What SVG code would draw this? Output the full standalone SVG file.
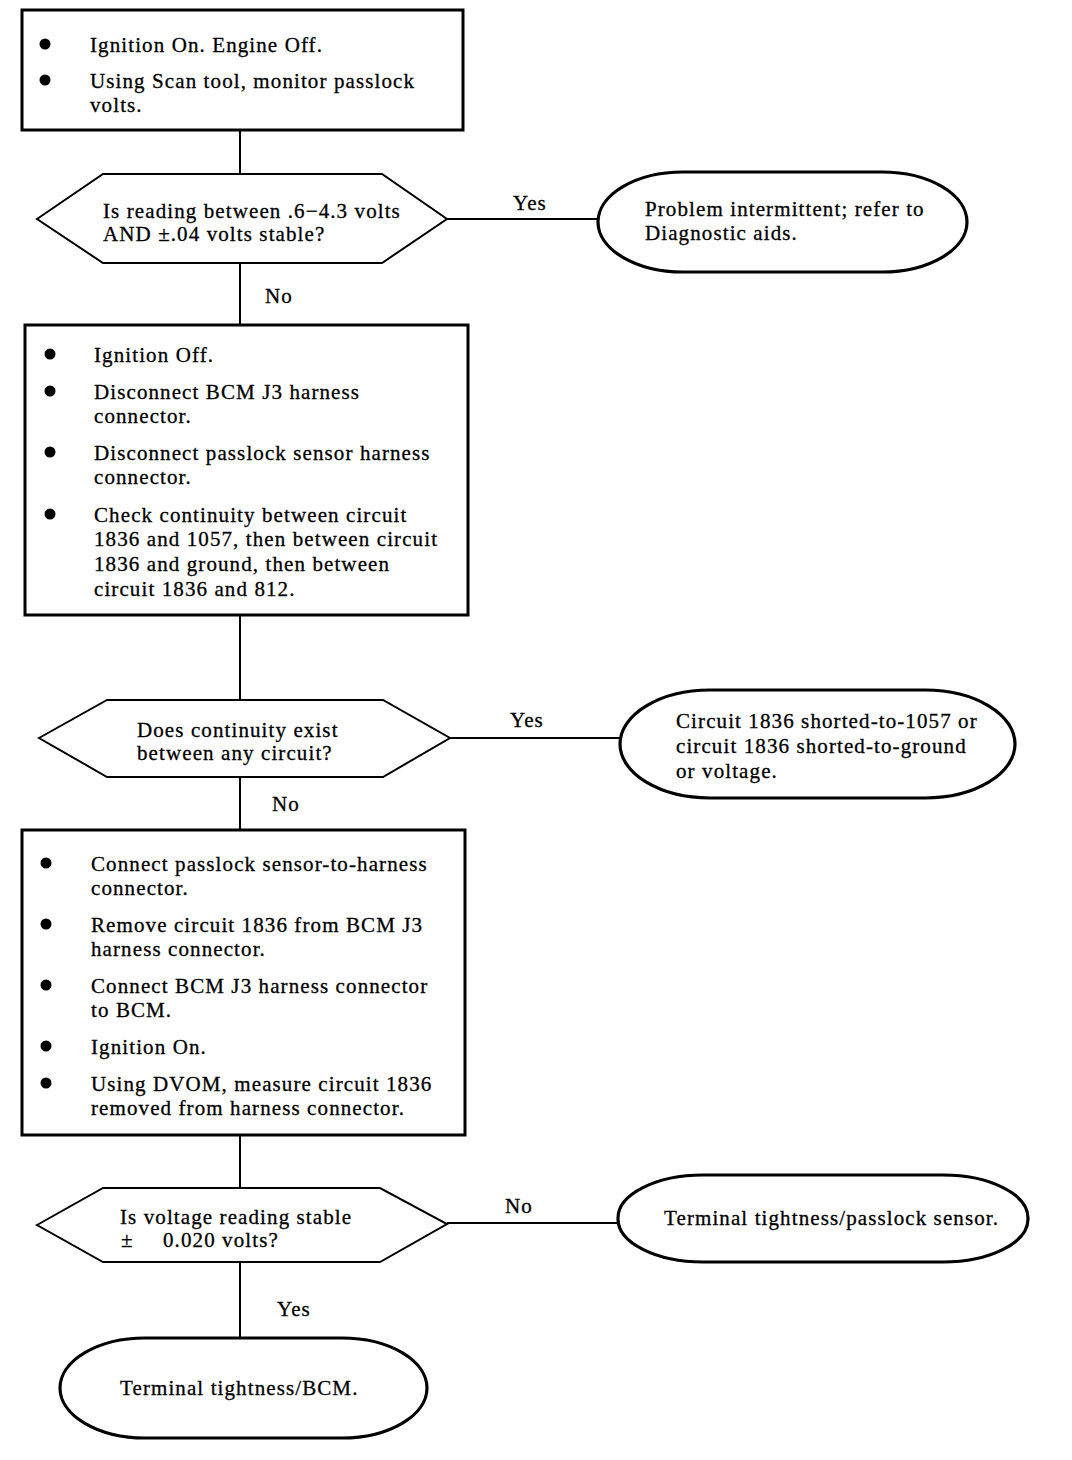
<svg xmlns="http://www.w3.org/2000/svg" width="1072" height="1460" viewBox="0 0 1072 1460">
<style>
text{font-family:"Liberation Serif","Times New Roman",serif;font-size:21px;letter-spacing:1.1px;fill:#000;stroke:#000;stroke-width:0.3}
.box{fill:#fff;stroke:#000;stroke-width:3}
.term{fill:#fff;stroke:#000;stroke-width:3.2}
.dec{fill:#fff;stroke:#000;stroke-width:2}
.ln{stroke:#000;stroke-width:2;fill:none}
.b{fill:#000}
</style>
<rect width="1072" height="1460" fill="#fff"/>
<g id="connectors">
<line class="ln" x1="240" y1="130" x2="240" y2="174"/>
<line class="ln" x1="447" y1="219" x2="598" y2="219"/>
<line class="ln" x1="240" y1="263" x2="240" y2="325"/>
<line class="ln" x1="240" y1="615" x2="240" y2="700"/>
<line class="ln" x1="450" y1="738" x2="620" y2="738"/>
<line class="ln" x1="240" y1="777" x2="240" y2="830"/>
<line class="ln" x1="240" y1="1135" x2="240" y2="1188"/>
<line class="ln" x1="447" y1="1223" x2="618" y2="1223"/>
<line class="ln" x1="240" y1="1262" x2="240" y2="1338"/>
<text x="513" y="210">Yes</text>
<text x="265" y="303">No</text>
<text x="510" y="727">Yes</text>
<text x="272" y="811">No</text>
<text x="505" y="1213">No</text>
<text x="277" y="1316">Yes</text>
</g>
<g id="step1">
<rect class="box" x="22" y="10" width="441" height="120"/>
<circle class="b" cx="45" cy="44" r="5.5"/>
<circle class="b" cx="45" cy="80" r="5.5"/>
<text x="90" y="52">Ignition On. Engine Off.</text>
<text x="90" y="88">Using Scan tool, monitor passlock</text>
<text x="90" y="112">volts.</text>
</g>
<g id="decision1">
<polygon class="dec" points="37,219 103,174 382,174 447,219 382,263 103,263"/>
<text x="103" y="218">Is reading between .6−4.3 volts</text>
<text x="103" y="241">AND ±.04 volts stable?</text>
</g>
<g id="result1">
<rect class="term" x="598" y="172" width="369" height="100" rx="85" ry="50"/>
<text x="645" y="216">Problem intermittent; refer to</text>
<text x="645" y="240">Diagnostic aids.</text>
</g>
<g id="step2">
<rect class="box" x="25" y="325" width="443" height="290"/>
<circle class="b" cx="50" cy="354" r="5.5"/>
<circle class="b" cx="50" cy="391" r="5.5"/>
<circle class="b" cx="50" cy="452" r="5.5"/>
<circle class="b" cx="50" cy="514" r="5.5"/>
<text x="94" y="362">Ignition Off.</text>
<text x="94" y="399">Disconnect BCM J3 harness</text>
<text x="94" y="423">connector.</text>
<text x="94" y="460">Disconnect passlock sensor harness</text>
<text x="94" y="484">connector.</text>
<text x="94" y="522">Check continuity between circuit</text>
<text x="94" y="546">1836 and 1057, then between circuit</text>
<text x="94" y="571">1836 and ground, then between</text>
<text x="94" y="596">circuit 1836 and 812.</text>
</g>
<g id="decision2">
<polygon class="dec" points="39,738 107,700 383,700 450,738 383,777 107,777"/>
<text x="137" y="737">Does continuity exist</text>
<text x="137" y="760">between any circuit?</text>
</g>
<g id="result2">
<rect class="term" x="620" y="690" width="395" height="108" rx="90" ry="54"/>
<text x="676" y="728">Circuit 1836 shorted-to-1057 or</text>
<text x="676" y="753">circuit 1836 shorted-to-ground</text>
<text x="676" y="778">or voltage.</text>
</g>
<g id="step3">
<rect class="box" x="22" y="830" width="443" height="305"/>
<circle class="b" cx="46" cy="863" r="5.5"/>
<circle class="b" cx="46" cy="924" r="5.5"/>
<circle class="b" cx="46" cy="985" r="5.5"/>
<circle class="b" cx="46" cy="1046" r="5.5"/>
<circle class="b" cx="46" cy="1083" r="5.5"/>
<text x="91" y="871">Connect passlock sensor-to-harness</text>
<text x="91" y="895">connector.</text>
<text x="91" y="932">Remove circuit 1836 from BCM J3</text>
<text x="91" y="956">harness connector.</text>
<text x="91" y="993">Connect BCM J3 harness connector</text>
<text x="91" y="1017">to BCM.</text>
<text x="91" y="1054">Ignition On.</text>
<text x="91" y="1091">Using DVOM, measure circuit 1836</text>
<text x="91" y="1115">removed from harness connector.</text>
</g>
<g id="decision3">
<polygon class="dec" points="37,1225 103,1188 380,1188 447,1224 380,1262 103,1262"/>
<text x="120" y="1224">Is voltage reading stable</text>
<text x="121" y="1247">±</text>
<text x="163" y="1247">0.020 volts?</text>
</g>
<g id="result3">
<rect class="term" x="618" y="1175" width="410" height="87" rx="85" ry="43"/>
<text x="664" y="1225">Terminal tightness/passlock sensor.</text>
</g>
<g id="result4">
<rect class="term" x="60" y="1338" width="367" height="100" rx="85" ry="50"/>
<text x="120" y="1395">Terminal tightness/BCM.</text>
</g>
</svg>
